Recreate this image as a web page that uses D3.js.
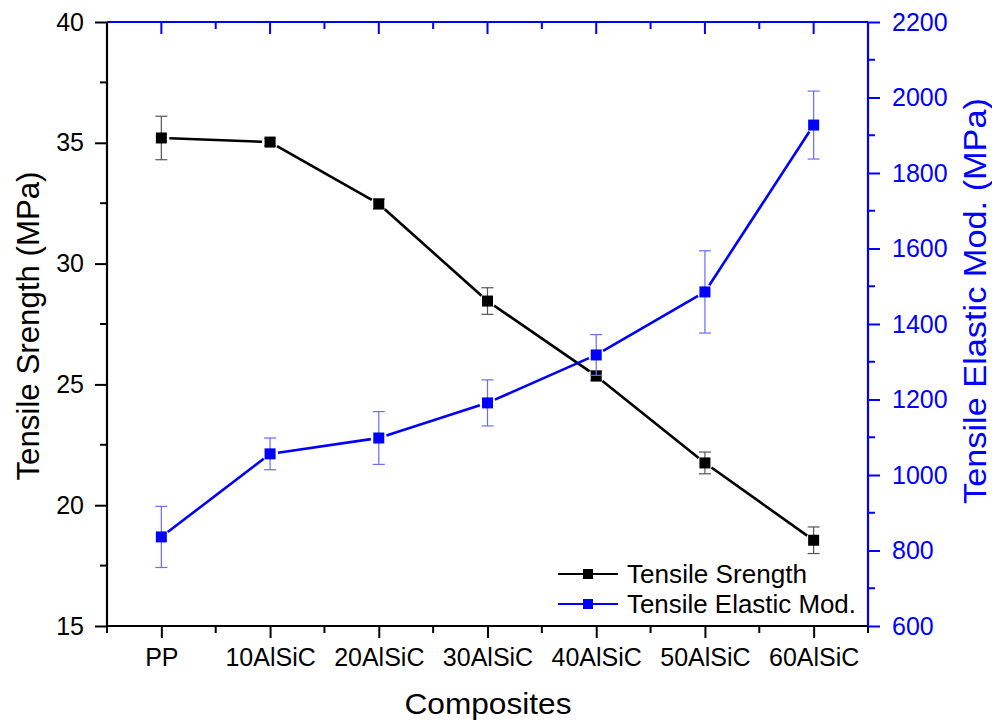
<!DOCTYPE html>
<html><head><meta charset="utf-8">
<script src="https://cdn.jsdelivr.net/npm/d3@7"></script>
<style>body{margin:0;background:#fff}svg{display:block}text{font-family:"Liberation Sans",Arial,sans-serif}</style>
</head><body>
<svg id="c" width="992" height="722"></svg>
<script>
const categories = ["PP","10AlSiC","20AlSiC","30AlSiC","40AlSiC","50AlSiC","60AlSiC"];
const strength = [35.2, 35.03, 32.47, 28.45, 25.35, 21.75, 18.55];
const strengthErr = [0.9, 0.15, 0.2, 0.55, 0.2, 0.45, 0.55];
const modulus = [836, 1056, 1098, 1191, 1318, 1485, 1927];
const modulusErr = [81, 42, 70, 61, 54, 109, 90];
const leftTicks = [15,20,25,30,35,40];
const rightTicks = [600,800,1000,1200,1400,1600,1800,2000,2200];

const FONT = '"Liberation Sans",Arial,sans-serif';
const svg = d3.select("#c");
const L=107, R=868, T=22, B=626;
const x = d3.scaleLinear().domain([-0.5, categories.length-0.5]).range([L,R]);
const yL = d3.scaleLinear().domain([15,40]).range([B,T]);
const yR = d3.scaleLinear().domain([600,2200]).range([B,T]);
const blue="#0000ff";

// top border with inward ticks
svg.append("line").attr("x1",L).attr("x2",R).attr("y1",T).attr("y2",T).attr("stroke",blue).attr("stroke-width",2.2);
const xMinor = d3.range(-0.5, categories.length, 1);
categories.forEach((c,i)=>{
  svg.append("line").attr("x1",x(i)).attr("x2",x(i)).attr("y1",T).attr("y2",T+12).attr("stroke",blue).attr("stroke-width",2);
});
xMinor.forEach(v=>{
  if (v>-0.5 && v<categories.length-0.5)
  svg.append("line").attr("x1",x(v)).attr("x2",x(v)).attr("y1",T).attr("y2",T+7).attr("stroke",blue).attr("stroke-width",2);
});

// bottom axis
const gx = svg.append("g").attr("transform",`translate(0,${B})`)
  .call(d3.axisBottom(x).tickValues(d3.range(categories.length)).tickFormat(i=>categories[i]).tickSize(12).tickPadding(10));
gx.select(".domain").attr("stroke","#000").attr("stroke-width",2.2).attr("d",`M${L},0H${R}`);
gx.selectAll(".tick line").attr("stroke","#000").attr("stroke-width",2);
gx.selectAll(".tick text").attr("font-size",25).attr("fill","#000").attr("font-family",FONT);
xMinor.forEach(v=>{
  gx.append("line").attr("x1",x(v)).attr("x2",x(v)).attr("y1",0).attr("y2",7).attr("stroke","#000").attr("stroke-width",2);
});

// left axis
const gl = svg.append("g").attr("transform",`translate(${L},0)`)
  .call(d3.axisLeft(yL).tickValues(leftTicks).tickSize(12).tickPadding(11));
gl.select(".domain").attr("stroke","#000").attr("stroke-width",2.2).attr("d",`M0,${B}V${T}`);
gl.selectAll(".tick line").attr("stroke","#000").attr("stroke-width",2);
gl.selectAll(".tick text").attr("font-size",25).attr("fill","#000").attr("font-family",FONT);
d3.range(17.5,40,5).forEach(v=>{
  gl.append("line").attr("x1",0).attr("x2",-7).attr("y1",yL(v)).attr("y2",yL(v)).attr("stroke","#000").attr("stroke-width",2);
});

// right axis
const gr = svg.append("g").attr("transform",`translate(${R},0)`)
  .call(d3.axisRight(yR).tickValues(rightTicks).tickFormat(d3.format("d")).tickSize(12).tickPadding(12));
gr.select(".domain").attr("stroke",blue).attr("stroke-width",2.2).attr("d",`M0,${B}V${T}`);
gr.selectAll(".tick line").attr("stroke",blue).attr("stroke-width",2);
gr.selectAll(".tick text").attr("font-size",25).attr("fill",blue).attr("font-family",FONT);
d3.range(700,2200,200).forEach(v=>{
  gr.append("line").attr("x1",0).attr("x2",7).attr("y1",yR(v)).attr("y2",yR(v)).attr("stroke",blue).attr("stroke-width",2);
});

// titles
svg.append("text").attr("transform",`translate(39,326) rotate(-90)`).attr("text-anchor","middle")
  .attr("font-size",31).attr("textLength",309).attr("lengthAdjust","spacingAndGlyphs").text("Tensile Srength (MPa)");
svg.append("text").attr("transform",`translate(986,301) rotate(-90)`).attr("text-anchor","middle")
  .attr("font-size",32).attr("textLength",406).attr("lengthAdjust","spacingAndGlyphs").attr("fill",blue).text("Tensile Elastic Mod. (MPa)");
svg.append("text").attr("x",488).attr("y",714).attr("text-anchor","middle").attr("font-size",30)
  .attr("textLength",167).attr("lengthAdjust","spacingAndGlyphs").text("Composites");

function series(vals, errs, y, color, errColor){
  const g = svg.append("g");
  const gap = 8;
  for (let i=0;i<vals.length-1;i++){
    const x1=x(i), y1=y(vals[i]), x2=x(i+1), y2=y(vals[i+1]);
    const d=Math.hypot(x2-x1,y2-y1), ux=(x2-x1)/d, uy=(y2-y1)/d;
    g.append("line").attr("x1",x1+ux*gap).attr("y1",y1+uy*gap).attr("x2",x2-ux*gap).attr("y2",y2-uy*gap)
      .attr("stroke",color).attr("stroke-width",2.6);
  }
  vals.forEach((v,i)=>{
    const cx=x(i);
    g.append("line").attr("x1",cx).attr("x2",cx).attr("y1",y(v-errs[i])).attr("y2",y(v+errs[i])).attr("stroke",errColor).attr("stroke-width",1.2);
    [v-errs[i], v+errs[i]].forEach(e=>{
      g.append("line").attr("x1",cx-6).attr("x2",cx+6).attr("y1",y(e)).attr("y2",y(e)).attr("stroke",errColor).attr("stroke-width",1.2);
    });
    g.append("rect").attr("x",cx-5.5).attr("y",y(v)-5.5).attr("width",11).attr("height",11).attr("fill",color);
  });
}
series(strength, strengthErr, yL, "#000", "#555");
series(modulus, modulusErr, yR, blue, "#6b6bff");

// legend
const legendLabels = ["Tensile Srength","Tensile Elastic Mod."];
const legendColors = ["#000", blue];
const legendLens = [180, 229];
legendLabels.forEach((lab,i)=>{
  const yy = 574 + i*30;
  const c = legendColors[i];
  svg.append("line").attr("x1",558).attr("x2",583).attr("y1",yy).attr("y2",yy).attr("stroke",c).attr("stroke-width",2);
  svg.append("line").attr("x1",593).attr("x2",618).attr("y1",yy).attr("y2",yy).attr("stroke",c).attr("stroke-width",2);
  svg.append("rect").attr("x",583).attr("y",yy-5).attr("width",10).attr("height",10).attr("fill",c);
  svg.append("text").attr("x",627).attr("y",yy+9).attr("font-size",25)
    .attr("textLength",legendLens[i]).attr("lengthAdjust","spacingAndGlyphs").text(lab);
});
</script>
</body></html>
